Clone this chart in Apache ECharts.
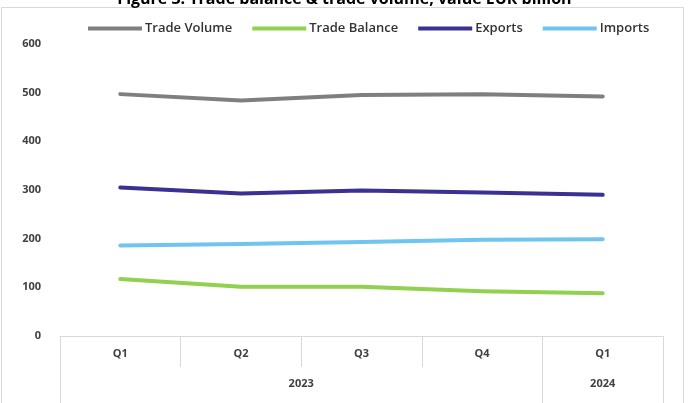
<!DOCTYPE html>
<html>
<head>
<meta charset="utf-8">
<script src="https://cdn.jsdelivr.net/npm/echarts@6/dist/echarts.min.js"></script>
<style>
  html, body { margin: 0; padding: 0; background: #fff; }
  #chart { width: 689px; height: 403px; }
</style>
</head>
<body>
<div id="chart"></div>
<script>
  // quarters and years (two-level category axis)
  var quarters = ['Q1', 'Q2', 'Q3', 'Q4', 'Q1'];
  var yearLabels = ['', '', '', '', '2023', '', '', '', '', '2024', ''];

  // EUR billion
  var tradeVolume = [497, 484, 495, 497, 492];
  var tradeBalance = [117, 101, 101, 92, 88];
  var exportsVal = [305, 293, 299, 295, 290];
  var importsVal = [186, 189, 193, 198, 199];

  var chart = echarts.init(document.getElementById('chart'));

  var font = '"Open Sans", "Noto Sans", sans-serif';

  function lineSeries(name, data, color) {
    return {
      name: name,
      type: 'line',
      data: data,
      symbol: 'none',
      lineStyle: { width: 4, color: color, cap: 'round', join: 'round' },
      itemStyle: { color: color }
    };
  }

  var option = {
    animation: false,
    title: {
      text: 'Figure 3: Trade balance & trade volume, value EUR billion',
      left: 'center',
      top: -14,
      textStyle: { fontFamily: font, fontSize: 16, fontWeight: 'bold', color: '#000' }
    },
    graphic: [{
      type: 'rect',
      shape: { x: 1.5, y: 7.5, width: 682, height: 410 },
      style: { fill: 'none', stroke: '#d9d9d9', lineWidth: 1 },
      silent: true
    }],
    legend: {
      top: 17,
      left: 83,
      itemWidth: 54,
      itemHeight: 4,
      itemGap: 20,
      icon: 'rect',
      textStyle: { fontFamily: font, fontSize: 13, fontWeight: 600, color: '#333', padding: [0, 0, 0, -2] },
      data: ['Trade Volume', 'Trade Balance', 'Exports', 'Imports']
    },
    grid: { left: 60, right: 26, top: 44, bottom: 67 },
    xAxis: [{
      type: 'category',
      data: quarters,
      position: 'bottom',
      axisLine: { show: true, lineStyle: { color: '#d9d9d9', width: 1 } },
      axisTick: { show: true, length: 31, lineStyle: { color: '#d9d9d9' } },
      axisLabel: { fontFamily: font, fontSize: 11, fontWeight: 'bold', color: '#404040', margin: 12 }
    }, {
      type: 'category',
      data: yearLabels,
      boundaryGap: false,
      position: 'bottom',
      offset: 31,
      axisLine: { show: false },
      axisTick: {
        show: true, length: 40,
        interval: function (i) { return i === 0 || i === 8 || i === 10; },
        lineStyle: { color: '#d9d9d9' }
      },
      axisLabel: { interval: 0, fontFamily: font, fontSize: 11, fontWeight: 'bold', color: '#404040', margin: 11 }
    }],
    yAxis: {
      type: 'value',
      min: 0,
      max: 600,
      interval: 100,
      axisLine: { show: false },
      axisTick: { show: false },
      splitLine: { show: false },
      axisLabel: { fontFamily: font, fontSize: 11, fontWeight: 'bold', color: '#404040', margin: 19 }
    },
    series: [
      lineSeries('Trade Volume', tradeVolume, '#7f7f7f'),
      lineSeries('Trade Balance', tradeBalance, '#92d050'),
      lineSeries('Exports', exportsVal, '#3a3192'),
      lineSeries('Imports', importsVal, '#6fc5f0')
    ]
  };

  chart.setOption(option);
</script>
</body>
</html>
